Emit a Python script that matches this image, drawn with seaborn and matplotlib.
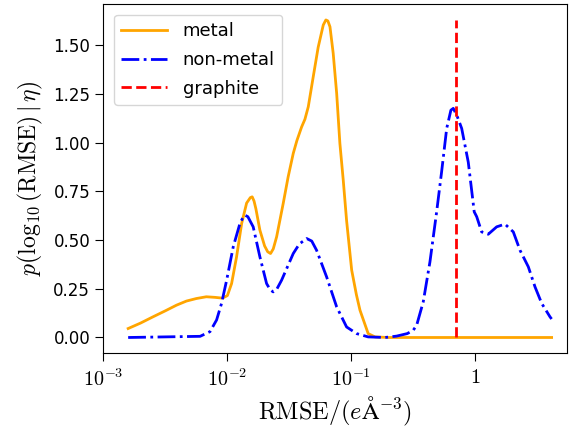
import numpy as np
import pandas as pd
import matplotlib
matplotlib.use("Agg")
import matplotlib.pyplot as plt
import seaborn as sns

# log10(RMSE) positions and densities
metal_log = [-2.80, -2.70, -2.60, -2.50, -2.41, -2.33, -2.25, -2.17, -2.10, -2.04, -2.00,
             -1.966, -1.926, -1.885, -1.845, -1.815, -1.80, -1.785, -1.77, -1.738, -1.70,
             -1.675, -1.652, -1.63, -1.603, -1.55, -1.51, -1.469, -1.44, -1.402, -1.375,
             -1.348, -1.308, -1.268, -1.227, -1.206, -1.19, -1.173, -1.147, -1.119, -1.093,
             -1.066, -1.039, -0.998, -0.96, -0.931, -0.865, -0.81, -0.70, 0.614]
metal_p = [0.046, 0.074, 0.106, 0.137, 0.166, 0.187, 0.200, 0.209, 0.206, 0.202, 0.215,
           0.277, 0.414, 0.585, 0.690, 0.718, 0.722, 0.70, 0.66, 0.551, 0.47,
           0.44, 0.431, 0.455, 0.517, 0.688, 0.825, 0.945, 1.01, 1.08, 1.12,
           1.184, 1.338, 1.49, 1.604, 1.63, 1.625, 1.595, 1.459, 1.253, 0.996,
           0.808, 0.60, 0.346, 0.22, 0.14, 0.02, 0.003, 0.0, 0.0]

nonmetal_log = [-2.80, -2.22, -2.14, -2.087, -2.047, -2.006, -1.953, -1.899, -1.875, -1.859,
                -1.835, -1.792, -1.738, -1.684, -1.655, -1.631, -1.60, -1.563, -1.469, -1.42,
                -1.361, -1.32, -1.281, -1.200, -1.119, -1.039, -0.958, -0.865, -0.73, -0.636,
                -0.55, -0.502, -0.474, -0.421, -0.367, -0.313, -0.273, -0.232, -0.198, -0.179,
                -0.15, -0.111, -0.058, -0.010, 0.010, 0.050, 0.103, 0.171, 0.238, 0.305,
                0.359, 0.426, 0.480, 0.534, 0.601, 0.614]
nonmetal_p = [0.0, 0.006, 0.03, 0.09, 0.175, 0.294, 0.465, 0.585, 0.615, 0.628,
              0.62, 0.568, 0.414, 0.277, 0.245, 0.234, 0.25, 0.294, 0.431, 0.48,
              0.508, 0.495, 0.448, 0.311, 0.157, 0.054, 0.02, 0.003, 0.0, 0.007,
              0.02, 0.037, 0.063, 0.183, 0.388, 0.645, 0.85, 1.073, 1.167, 1.176,
              1.14, 1.073, 0.90, 0.645, 0.62, 0.542, 0.53, 0.568, 0.582, 0.542,
              0.448, 0.363, 0.26, 0.175, 0.106, 0.095]

graphite_rmse = 0.70
graphite_top = 1.63

xtick_vals = [1e-3, 1e-2, 1e-1, 1]
xtick_labels = [r'$10^{-3}$', r'$10^{-2}$', r'$10^{-1}$', r'$1$']
ytick_vals = [0.0, 0.25, 0.5, 0.75, 1.0, 1.25, 1.5]

plt.rcParams['mathtext.fontset'] = 'cm'
plt.rcParams['font.family'] = ['DejaVu Sans']

df_m = pd.DataFrame({'rmse': 10 ** np.array(metal_log), 'p': metal_p})
df_n = pd.DataFrame({'rmse': 10 ** np.array(nonmetal_log), 'p': nonmetal_p})

fig = plt.figure(figsize=(5.71, 4.40), dpi=100)
ax = fig.add_axes([0.181, 0.198, 0.812, 0.793])

sns.lineplot(data=df_m, x='rmse', y='p', ax=ax, color='orange', lw=2,
             label='metal', sort=False, estimator=None)
sns.lineplot(data=df_n, x='rmse', y='p', ax=ax, color='blue', lw=2,
             linestyle='-.', label='non-metal', sort=False, estimator=None)
ax.vlines(graphite_rmse, 0, graphite_top, colors='red', linestyles='--', lw=2,
          label='graphite')

ax.set_xscale('log')
ax.set_xlim(1e-3, 10 ** 0.738)
ax.set_ylim(-0.079, 1.712)
ax.set_xticks(xtick_vals)
ax.set_xticklabels(xtick_labels)
ax.xaxis.set_minor_locator(matplotlib.ticker.NullLocator())
ax.set_yticks(ytick_vals)
ax.set_yticklabels([f'{v:.2f}' for v in ytick_vals])
ax.tick_params(axis='y', labelsize=12, length=6)
ax.tick_params(axis='x', labelsize=14.5, length=6, pad=5)
ax.set_xlabel(r'$\mathrm{RMSE}/(e\mathrm{\AA}^{-3})$', fontsize=17.5, labelpad=4)
ax.set_ylabel(r'$p(\log_{10}(\mathrm{RMSE})\,|\,\eta)$', fontsize=17, labelpad=6)
ax.legend(loc='upper left', fontsize=13, handlelength=2.5, handletextpad=0.9,
          labelspacing=0.6, borderaxespad=0.6)

fig.savefig('out.png', dpi=100)
